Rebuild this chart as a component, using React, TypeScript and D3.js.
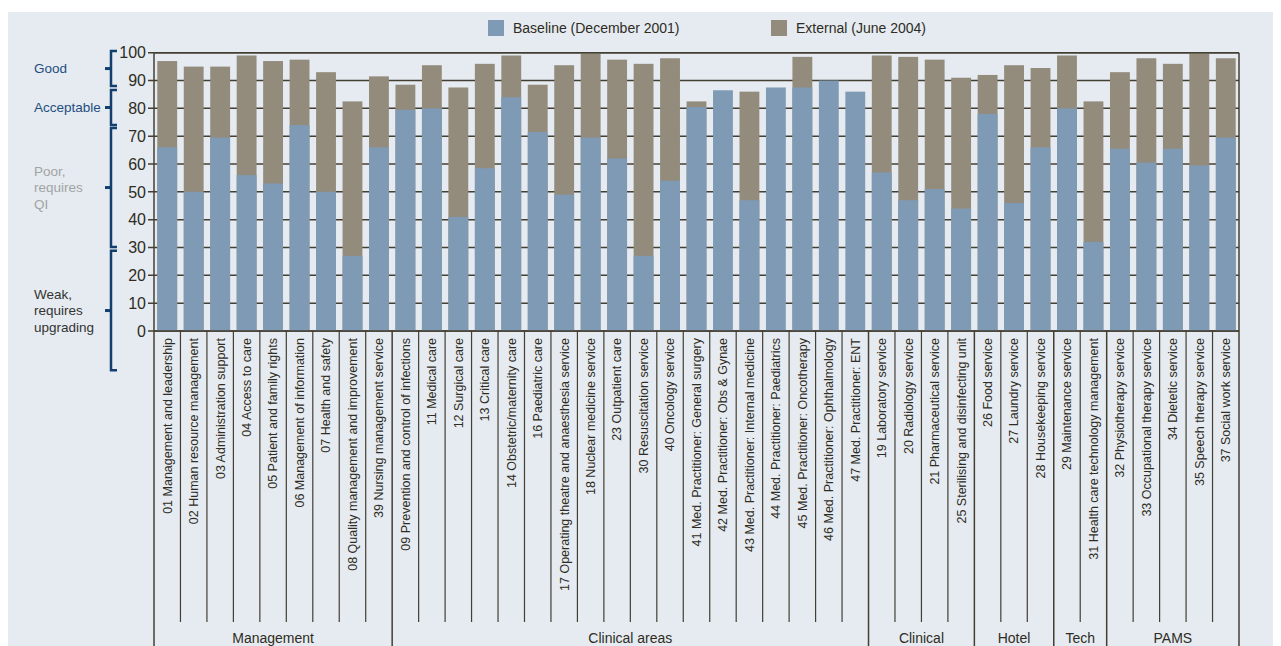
import React, { useEffect, useRef } from 'react';
import * as d3 from 'd3';

// score per standard
const categories = [
  "01 Management and leadership", "02 Human resource management", "03 Administration support",
  "04 Access to care", "05 Patient and family rights", "06 Management of information",
  "07 Health and safety", "08 Quality management and improvement", "39 Nursing management service",
  "09 Prevention and control of infections", "11 Medical care", "12 Surgical care", "13 Critical care",
  "14 Obstetric/maternity care", "16 Paediatric care", "17 Operating theatre and anaesthesia service",
  "18 Nuclear medicine service", "23 Outpatient care", "30 Resuscitation service", "40 Oncology service",
  "41 Med. Practitioner: General surgery", "42 Med. Practitioner: Obs & Gynae",
  "43 Med. Practitioner: Internal medicine", "44 Med. Practitioner: Paediatrics",
  "45 Med. Practitioner: Oncotherapy", "46 Med. Practitioner: Ophthalmology", "47 Med. Practitioner: ENT",
  "19 Laboratory service", "20 Radiology service", "21 Pharmaceutical service",
  "25 Sterilising and disinfecting unit", "26 Food service", "27 Laundry service",
  "28 Housekeeping service", "29 Maintenance service", "31 Health care technology management",
  "32 Physiotherapy service", "33 Occupational therapy service", "34 Dietetic service",
  "35 Speech therapy service", "37 Social work service"
];

const baseline = [
  66, 50, 69.5, 56, 53, 74, 50, 27, 66,
  79.5, 80, 41, 58.5, 84, 71.5, 49, 69.5, 62, 27, 54, 80.5, 86.5, 47, 87.5, 87.5, 90, 86,
  57, 47, 51, 44,
  78, 46, 66,
  80, 32,
  65.5, 60.5, 65.5, 59.5, 69.5
];

const external = [
  97, 95, 95, 99, 97, 97.5, 93, 82.5, 91.5,
  88.5, 95.5, 87.5, 96, 99, 88.5, 95.5, 99.8, 97.5, 96, 98, 82.5, null, 86, null, 98.5, null, null,
  99, 98.5, 97.5, 91,
  92, 95.5, 94.5,
  99, 82.5,
  93, 98, 96, 100, 98
];

const groupNames = ["Management", "Clinical areas", "Clinical", "Hotel", "Tech", "PAMS"];
const groupSizes = [9, 18, 4, 3, 2, 5];

const yTicks = [0, 10, 20, 30, 40, 50, 60, 70, 80, 90, 100];

const levelLabels = [["Good"], ["Acceptable"], ["Poor,", "requires", "QI"], ["Weak,", "requires", "upgrading"]];
const levelRanges = [[100.6, 88], [86.6, 74], [72.9, 30.2], [28.8, -14.1]];

const seriesNames = ["Baseline (December 2001)", "External (June 2004)"];

function App() {
  const ref = useRef(null);

  useEffect(() => {
    const root = d3.select(ref.current);
    root.selectAll('*').remove();
    const g = root.append('g').attr('transform', 'translate(-8,-8)');

    const font = 'Liberation Sans, Arial, Helvetica, sans-serif';
    const blue = '#7f9ab4';
    const grey = '#938b7c';
    const ink = '#2f2c24';
    const lineCol = '#433f33';
    const navy = '#123f6e';

    const left = 154, right = 1239, top = 52.7, bottom = 331;

    g.append('rect').attr('x', 8).attr('y', 12).attr('width', 1273).attr('height', 634).attr('fill', '#e5ebf0');

    // legend
    const legendX = [488, 771];
    seriesNames.forEach((name, i) => {
      g.append('rect').attr('x', legendX[i]).attr('y', 20).attr('width', 16).attr('height', 16)
        .attr('fill', i === 0 ? blue : grey);
      g.append('text').attr('x', legendX[i] + 25).attr('y', 33).attr('font-family', font)
        .attr('font-size', 14).attr('fill', ink).text(name);
    });

    const x = d3.scaleBand().domain(categories).range([left, right]).paddingInner(0.25).paddingOuter(0.125);
    const y = d3.scaleLinear().domain([0, 100]).range([bottom, top]);
    const gap = (x.step() - x.bandwidth()) / 2;

    // gridlines + ticks
    yTicks.forEach(t => {
      g.append('line').attr('x1', left - 6).attr('x2', right).attr('y1', y(t)).attr('y2', y(t))
        .attr('stroke', lineCol).attr('stroke-width', 1.5);
      g.append('text').attr('x', left - 8).attr('y', y(t)).attr('dy', '0.36em').attr('text-anchor', 'end')
        .attr('font-family', font).attr('font-size', 16).attr('fill', ink).text(t);
    });

    // bars: external behind, baseline in front
    categories.forEach((c, i) => {
      const ext = external[i];
      if (ext != null) {
        g.append('rect').attr('x', x(c)).attr('width', x.bandwidth())
          .attr('y', y(ext)).attr('height', y(0) - y(ext)).attr('fill', grey);
      }
      g.append('rect').attr('x', x(c)).attr('width', x.bandwidth())
        .attr('y', y(baseline[i])).attr('height', y(0) - y(baseline[i])).attr('fill', blue);
    });

    // frame
    g.append('line').attr('x1', left).attr('x2', right).attr('y1', top).attr('y2', top)
      .attr('stroke', lineCol).attr('stroke-width', 1.5);
    g.append('line').attr('x1', left).attr('x2', right).attr('y1', bottom).attr('y2', bottom)
      .attr('stroke', lineCol).attr('stroke-width', 1.5);

    // separators
    const groupEnds = d3.cumsum(groupSizes);
    const edges = categories.map(c => x(c) - gap).concat([right]);
    edges.forEach((ex, i) => {
      const isGroup = i === 0 || groupEnds.includes(i);
      const isFrame = i === 0 || i === edges.length - 1;
      g.append('line').attr('x1', ex).attr('x2', ex)
        .attr('y1', isFrame ? top : bottom).attr('y2', isGroup ? 646 : 622)
        .attr('stroke', lineCol).attr('stroke-width', isGroup ? 1.5 : 1.2);
    });

    // category labels
    categories.forEach(c => {
      g.append('text').attr('transform', `translate(${x(c) + x.bandwidth() / 2},338) rotate(-90)`)
        .attr('text-anchor', 'end').attr('dy', '0.35em').attr('font-family', font)
        .attr('font-size', 12.5).attr('fill', ink).text(c);
    });

    // group labels
    let start = 0;
    groupNames.forEach((name, i) => {
      const x0 = edges[start], x1 = edges[start + groupSizes[i]];
      g.append('text').attr('x', (x0 + x1) / 2).attr('y', 643).attr('text-anchor', 'middle')
        .attr('font-family', font).attr('font-size', 14).attr('fill', ink).text(name);
      start += groupSizes[i];
    });

    // quality level brackets
    const labelColors = ['#1f4e80', '#1f4e80', '#a3a3a3', '#333333'];
    levelRanges.forEach((r, i) => {
      const y0 = y(r[0]), y1 = y(r[1]), ym = (y0 + y1) / 2;
      g.append('path').attr('d', `M117,${y0}H111V${y1}H117`).attr('fill', 'none')
        .attr('stroke', navy).attr('stroke-width', 2.5);
      g.append('line').attr('x1', 105).attr('x2', 111).attr('y1', ym).attr('y2', ym)
        .attr('stroke', navy).attr('stroke-width', 3);
      const lines = levelLabels[i];
      lines.forEach((l, k) => {
        g.append('text').attr('x', 34).attr('y', ym + (k - (lines.length - 1) / 2) * 16.3)
          .attr('dy', '0.35em').attr('font-family', font).attr('font-size', 13.5)
          .attr('fill', labelColors[i]).text(l);
      });
    });
  }, []);

  return <svg ref={ref} width={1273} height={638} style={{ display: 'block' }} />;
}

export default App;
